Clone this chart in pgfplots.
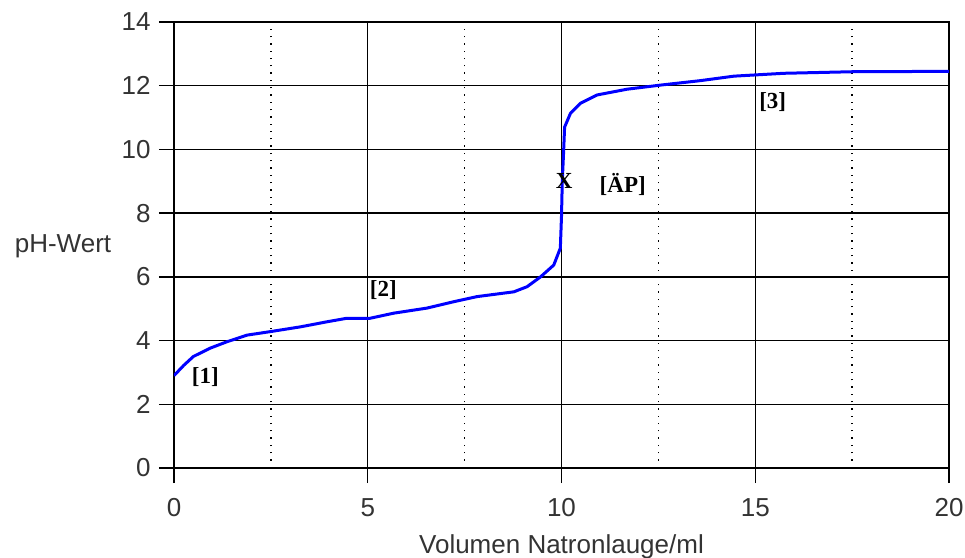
\documentclass[border=0pt]{standalone}
\usepackage{pgfplots}
\pgfplotsset{compat=1.18}
\usepackage{fontspec}
\setmainfont{Liberation Sans}
\newfontfamily\serifb{Liberation Serif}
\begin{document}
\begin{tikzpicture}
\path[use as bounding box] (-174bp,-90bp) rectangle (791bp,468bp);
% grid axis and frame
\begin{axis}[at={(0bp,0bp)}, anchor=south west, scale only axis,
  width=775bp, height=446bp,
  xmin=0, xmax=20, ymin=0, ymax=14,
  xtick={0,5,10,15,20}, ytick={0,2,4,6,8,10,12,14},
  minor xtick={2.5,7.5,12.5,17.5},
  xticklabels={}, yticklabels={},
  major tick length=0bp, minor tick length=0bp,
  xmajorgrids, ymajorgrids, xminorgrids,
  major grid style={black, line width=1.3bp},
  minor grid style={black, line width=1.3bp, dash pattern=on 1.3bp off 6bp},
  axis line style={black, line width=1.3bp},
]
\end{axis}
% ticks, labels and data
\begin{axis}[at={(0bp,0bp)}, anchor=south west, scale only axis,
  width=775bp, height=446bp,
  xmin=0, xmax=20, ymin=0, ymax=14,
  axis x line*=bottom, axis y line*=left,
  xtick={0,5,10,15,20}, ytick={0,2,4,6,8,10,12,14},
  axis line style={black, line width=1.3bp, -},
  major tick style={black, line width=1.3bp},
  major tick length=15bp,
  tick align=outside,
  /pgf/number format/assume math mode=true,
  ticklabel style={font=\fontsize{26bp}{30bp}\selectfont, text=black!80},
  xticklabel style={yshift=-12bp},
  yticklabel style={xshift=-5bp},
  every axis x label/.style={at={(rel axis cs:0.5,0)}, anchor=center, yshift=-79bp, font=\fontsize{26bp}{30bp}\selectfont, text=black!80},
  every axis y label/.style={at={(rel axis cs:0,0.498)}, anchor=center, xshift=-111bp, font=\fontsize{26bp}{30bp}\selectfont, text=black!80},
  xlabel={Volumen Natronlauge/ml},
  ylabel={pH-Wert},
]
\addplot[blue, line width=3bp, line join=round] coordinates {
(0,2.9)(0.25,3.22)(0.5,3.5)(0.93,3.76)(1.36,3.96)(1.88,4.17)(2.48,4.28)(3.26,4.43)
(3.95,4.59)(4.46,4.70)(5.06,4.70)(5.67,4.86)(6.53,5.02)(7.22,5.22)(7.82,5.38)
(8.77,5.53)(9.11,5.69)(9.46,6.0)(9.80,6.37)(9.97,6.9)(10.0,7.9)(10.02,9.0)
(10.05,9.8)(10.08,10.7)(10.23,11.13)(10.49,11.45)(10.92,11.71)(11.69,11.89)
(12.56,12.02)(13.59,12.16)(14.45,12.30)(15.74,12.39)(17.55,12.44)(20,12.45)};
\node[font=\serifb\bfseries\fontsize{23bp}{26bp}\selectfont] at (axis cs:0.81,2.85) {[1]};
\node[font=\serifb\bfseries\fontsize{23bp}{26bp}\selectfont] at (axis cs:5.40,5.59) {[2]};
\node[font=\serifb\bfseries\fontsize{23bp}{26bp}\selectfont] at (axis cs:10.07,9.0) {X};
\node[font=\serifb\bfseries\fontsize{23bp}{26bp}\selectfont] at (axis cs:11.58,8.9) {[ÄP]};
\node[font=\serifb\bfseries\fontsize{23bp}{26bp}\selectfont] at (axis cs:15.45,11.5) {[3]};
\end{axis}
\end{tikzpicture}
\end{document}
